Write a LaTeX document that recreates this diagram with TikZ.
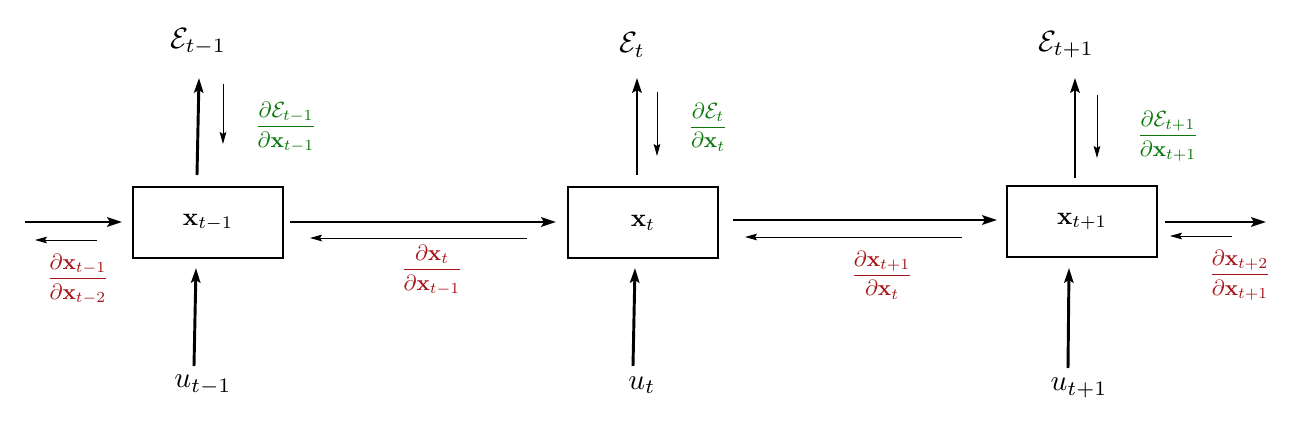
\documentclass[tikz,border=0pt]{standalone}
\usepackage{amsmath}
\usepackage{graphicx}
\usetikzlibrary{arrows.meta}
\definecolor{gr}{RGB}{10,120,10}
\definecolor{rd}{RGB}{165,20,25}
\newcommand{\BX}[1]{\scalebox{1.9}{$#1$}}
\newcommand{\LB}[1]{\scalebox{2.2}{$#1$}}
\newcommand{\FR}[1]{\scalebox{1.65}{$#1$}}
\begin{document}
\begin{tikzpicture}[x=0.75pt,y=-0.75pt,
 box/.style={draw,line width=1.2pt,minimum width=112.5pt,minimum height=53pt,inner sep=0pt},
 lab/.style={inner sep=0pt},
 fr/.style={inner sep=0pt},
 thk/.style={line width=2.2pt,-{Stealth[length=11pt,width=7pt,inset=2pt]}},
 thn/.style={line width=0.7pt,-{Stealth[length=9pt,width=5pt,inset=1.5pt]}}]
\useasboundingbox (0,0) rectangle (1300,428);
\node[box] (b1) at (208,222.5) {\BX{\mathbf{x}_{t-1}}};
\node[box] (b2) at (643,222.5) {\BX{\mathbf{x}_{t}}};
\node[box] (b3) at (1082,221.5) {\BX{\mathbf{x}_{t+1}}};
\node[lab] (e1) at (198,42) {\LB{\mathcal{E}_{t-1}}};
\node[lab] (e2) at (632,45) {\LB{\mathcal{E}_{t}}};
\node[lab] (e3) at (1066,45) {\LB{\mathcal{E}_{t+1}}};
\node[lab] (u1) at (203,385) {\LB{u_{t-1}}};
\node[lab] (u2) at (642,385) {\LB{u_{t}}};
\node[lab] (u3) at (1079,388) {\LB{u_{t+1}}};
% vertical
\coordinate (a1) at (197,175); \coordinate (a1e) at (199,78);
\coordinate (a2) at (637,175); \coordinate (a2e) at (637,78);
\coordinate (a3) at (1075,178); \coordinate (a3e) at (1075,78);
\draw[thk] (a1)--(a1e); \draw[thk] (a2)--(a2e); \draw[thk] (a3)--(a3e);
\coordinate (v1) at (194,366); \coordinate (v1e) at (196,268);
\coordinate (v2) at (633,366); \coordinate (v2e) at (635,268);
\coordinate (v3) at (1068,368); \coordinate (v3e) at (1069,268);
\draw[thk] (v1)--(v1e); \draw[thk] (v2)--(v2e); \draw[thk] (v3)--(v3e);
\coordinate (s1) at (223,84); \coordinate (s1e) at (223,144);
\coordinate (s2) at (657,92); \coordinate (s2e) at (657,156);
\coordinate (s3) at (1097,95); \coordinate (s3e) at (1097,158);
\draw[thn] (s1)--(s1e); \draw[thn] (s2)--(s2e); \draw[thn] (s3)--(s3e);
\node[fr,text=gr] (g1) at (286,127) {\FR{\dfrac{\partial\mathcal{E}_{t-1}}{\partial\mathbf{x}_{t-1}}}};
\node[fr,text=gr] (g2) at (708,127) {\FR{\dfrac{\partial\mathcal{E}_{t}}{\partial\mathbf{x}_{t}}}};
\node[fr,text=gr] (g3) at (1168,136) {\FR{\dfrac{\partial\mathcal{E}_{t+1}}{\partial\mathbf{x}_{t+1}}}};
% horizontal
\coordinate (h0) at (25,222); \coordinate (h0e) at (122,222);
\coordinate (h1) at (290,222); \coordinate (h1e) at (556,222);
\coordinate (h2) at (733,220); \coordinate (h2e) at (997,220);
\coordinate (h3) at (1165,222); \coordinate (h3e) at (1266,222);
\draw[thk] (h0)--(h0e); \draw[thk] (h1)--(h1e);
\draw[thk] (h2)--(h2e); \draw[thk] (h3)--(h3e);
\coordinate (r0) at (97,240); \coordinate (r0e) at (35,240);
\coordinate (r1) at (527,238); \coordinate (r1e) at (310,238);
\coordinate (r2) at (962,237); \coordinate (r2e) at (745,237);
\coordinate (r3) at (1232,236); \coordinate (r3e) at (1170,236);
\draw[thn] (r0)--(r0e); \draw[thn] (r1)--(r1e);
\draw[thn] (r2)--(r2e); \draw[thn] (r3)--(r3e);
\node[fr,text=rd] (f0) at (78,279) {\FR{\dfrac{\partial\mathbf{x}_{t-1}}{\partial\mathbf{x}_{t-2}}}};
\node[fr,text=rd] (f1) at (432,270) {\FR{\dfrac{\partial\mathbf{x}_{t}}{\partial\mathbf{x}_{t-1}}}};
\node[fr,text=rd] (f2) at (882,275) {\FR{\dfrac{\partial\mathbf{x}_{t+1}}{\partial\mathbf{x}_{t}}}};
\node[fr,text=rd] (f3) at (1240,275) {\FR{\dfrac{\partial\mathbf{x}_{t+2}}{\partial\mathbf{x}_{t+1}}}};
\end{tikzpicture}
\end{document}
